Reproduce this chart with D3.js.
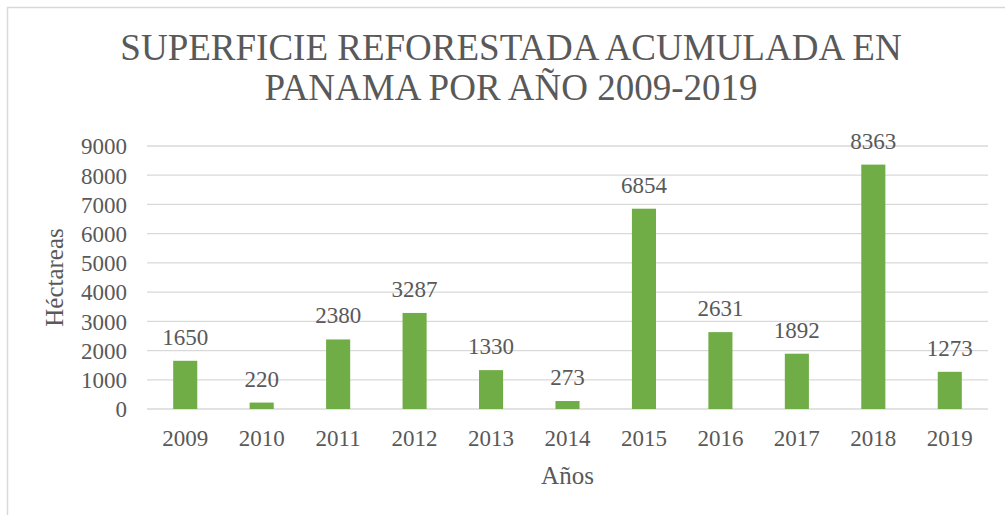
<!DOCTYPE html>
<html>
<head>
<meta charset="utf-8">
<script src="https://cdn.jsdelivr.net/npm/d3@7"></script>
<style>
  body { margin: 0; background: #fff; }
  svg text { font-family: 'Liberation Serif', 'Times New Roman', Times, 'DejaVu Serif', serif; fill: #595959; }
</style>
</head>
<body>
<svg width="1005" height="515"></svg>
<script>
  const titleLines = ['SUPERFICIE REFORESTADA ACUMULADA EN', 'PANAMA POR AÑO 2009-2019'];
  const xAxisLabelText = 'Años';
  const yAxisLabelText = 'Héctareas';
  const years = ['2009', '2010', '2011', '2012', '2013', '2014', '2015', '2016', '2017', '2018', '2019'];
  const hectares = [1650, 220, 2380, 3287, 1330, 273, 6854, 2631, 1892, 8363, 1273];
  const yTicks = [0, 1000, 2000, 3000, 4000, 5000, 6000, 7000, 8000, 9000];

  const serif = "'Liberation Serif', 'Times New Roman', Times, 'DejaVu Serif', serif";

  const svg = d3.select('svg');
  const width = +svg.attr('width');
  const height = +svg.attr('height');

  // chart frame: only top and left edges are visible in the source
  svg.append('path')
    .attr('d', `M7.5,${height} V7.5 H${width}`)
    .attr('fill', 'none')
    .attr('stroke', '#d9d9d9')
    .attr('stroke-width', 1.5);

  const margin = { top: 146, right: 17, bottom: 106, left: 147 };
  const innerWidth = width - margin.left - margin.right;
  const innerHeight = height - margin.top - margin.bottom;

  const data = years.map((y, i) => ({ year: y, value: hectares[i] }));

  const xScale = d3.scaleBand()
    .domain(years)
    .range([0, innerWidth])
    .paddingInner(0.685)
    .paddingOuter(0.3425);

  const yScale = d3.scaleLinear()
    .domain([0, 9000])
    .range([innerHeight, 0]);

  const g = svg.append('g')
    .attr('transform', `translate(${margin.left},${margin.top})`);

  // gridlines
  g.append('g')
    .selectAll('line').data(yTicks)
    .enter().append('line')
      .attr('x1', 0).attr('x2', innerWidth)
      .attr('y1', d => yScale(d)).attr('y2', d => yScale(d))
      .attr('stroke', '#d9d9d9')
      .attr('stroke-width', 1.3);

  const yAxisG = g.append('g')
    .call(d3.axisLeft(yScale).tickValues(yTicks).tickSize(0).tickPadding(20).tickFormat(d3.format('d')))
    .attr('font-family', serif);
  yAxisG.select('.domain').remove();
  yAxisG.selectAll('text')
    .attr('font-size', '23px')
    .attr('dy', '0.34em')
    .attr('fill', '#595959');

  const xAxisG = g.append('g')
    .attr('transform', `translate(0,${innerHeight})`)
    .call(d3.axisBottom(xScale).tickSize(0).tickPadding(21))
    .attr('font-family', serif);
  xAxisG.select('.domain').remove();
  xAxisG.selectAll('text')
    .attr('font-size', '23px')
    .attr('dy', '0.71em')
    .attr('fill', '#595959');

  g.selectAll('rect.bar').data(data)
    .enter().append('rect')
      .attr('class', 'bar')
      .attr('x', d => xScale(d.year))
      .attr('y', d => yScale(d.value))
      .attr('width', xScale.bandwidth())
      .attr('height', d => innerHeight - yScale(d.value))
      .attr('fill', '#70ad47');

  g.selectAll('text.value').data(data)
    .enter().append('text')
      .attr('class', 'value')
      .attr('x', d => xScale(d.year) + xScale.bandwidth() / 2)
      .attr('y', d => yScale(d.value) - 16)
      .attr('text-anchor', 'middle')
      .attr('font-size', '23px')
      .text(d => d.value);

  svg.append('text')
    .attr('x', margin.left + innerWidth / 2)
    .attr('y', 484)
    .attr('text-anchor', 'middle')
    .attr('font-size', '25px')
    .text(xAxisLabelText);

  svg.append('text')
    .attr('transform', `translate(63,${margin.top + innerHeight / 2}) rotate(-90)`)
    .attr('text-anchor', 'middle')
    .attr('font-size', '25px')
    .text(yAxisLabelText);

  svg.append('g').selectAll('text').data(titleLines)
    .enter().append('text')
      .attr('x', 511)
      .attr('y', (d, i) => 60 + i * 40)
      .attr('text-anchor', 'middle')
      .attr('font-size', '37px')
      .text(d => d);
</script>
</body>
</html>
